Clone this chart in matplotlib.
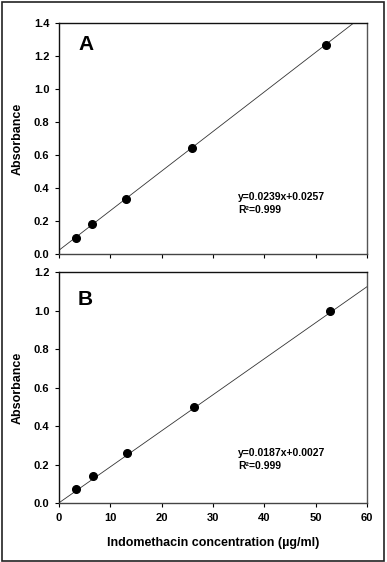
import matplotlib
matplotlib.use("Agg")
import matplotlib.pyplot as plt
from matplotlib.patches import Rectangle
import numpy as np

plt.rcParams["font.family"] = ["Liberation Sans", "DejaVu Sans"]
plt.rcParams["font.weight"] = "bold"

# Panel A data
conc_a = [3.25, 6.5, 13.0, 26.0, 52.0]
abs_a = [0.10, 0.185, 0.338, 0.643, 1.265]
slope_a, intercept_a = 0.0239, 0.0257

# Panel B data
conc_b = [3.3, 6.6, 13.2, 26.4, 52.8]
abs_b = [0.075, 0.14, 0.26, 0.50, 1.0]
slope_b, intercept_b = 0.0187, 0.0027

x_ticks = [0, 10, 20, 30, 40, 50, 60]
y_ticks_a = [0.0, 0.2, 0.4, 0.6, 0.8, 1.0, 1.2, 1.4]
y_ticks_b = [0.0, 0.2, 0.4, 0.6, 0.8, 1.0, 1.2]

fig = plt.figure(figsize=(3.87, 5.62), dpi=100)

# Outer border around the whole figure
fig.patches.append(
    Rectangle((1.5 / 387, 1.5 / 562), 382.5 / 387, 558.5 / 562,
              transform=fig.transFigure, fill=False, edgecolor="#222222", lw=1.2)
)

ax_a = fig.add_axes([0.1525, 0.5472, 0.7955, 0.4124])
ax_b = fig.add_axes([0.1525, 0.1044, 0.7955, 0.4111])


def style_axes(ax, y_ticks, ymax, show_xlabels):
    ax.set_xlim(0, 60)
    ax.set_ylim(0, ymax)
    ax.set_xticks(x_ticks)
    ax.set_yticks(y_ticks)
    ax.set_yticklabels([f"{v:.1f}" for v in y_ticks])
    if show_xlabels:
        ax.set_xticklabels([str(v) for v in x_ticks])
    else:
        ax.set_xticklabels([])
    ax.tick_params(direction="out", length=3, width=0.8, labelsize=8, pad=4,
                   top=False, right=False)
    for lbl in ax.get_xticklabels() + ax.get_yticklabels():
        lbl.set_fontweight("bold")
    ax.spines["left"].set_color("#111111")
    ax.spines["top"].set_color("#111111")
    ax.spines["right"].set_color("#555555")
    ax.spines["bottom"].set_color("#444444")
    for s in ax.spines.values():
        s.set_linewidth(1.0)
    ax.set_ylabel("Absorbance", fontsize=9, fontweight="bold", labelpad=7)


# Panel A
ax_a.axline((0, intercept_a), slope=slope_a, color="#333333", lw=0.6)
ax_a.plot(conc_a, abs_a, "o", color="black", ms=5.5, zorder=3)
style_axes(ax_a, y_ticks_a, 1.4, False)
ax_a.text(5.2, 1.27, "A", fontsize=15, fontweight="bold", ha="center", va="center")
ax_a.text(34.9, 0.349, f"y={slope_a}x+{intercept_a}", fontsize=7.5, fontweight="bold",
          ha="left", va="center")
ax_a.text(34.9, 0.269, "R²=0.999", fontsize=7.5, fontweight="bold", ha="left", va="center")

# Panel B
ax_b.axline((0, intercept_b), slope=slope_b, color="#333333", lw=0.6)
ax_b.plot(conc_b, abs_b, "o", color="black", ms=5.5, zorder=3)
style_axes(ax_b, y_ticks_b, 1.2, True)
ax_b.text(5.1, 1.061, "B", fontsize=15, fontweight="bold", ha="center", va="center")
ax_b.text(34.9, 0.261, f"y={slope_b}x+{intercept_b}", fontsize=7.5, fontweight="bold",
          ha="left", va="center")
ax_b.text(34.9, 0.195, "R²=0.999", fontsize=7.5, fontweight="bold", ha="left", va="center")
ax_b.set_xlabel("Indomethacin concentration (µg/ml)", fontsize=9, fontweight="bold",
                labelpad=10)

# Align y labels at the same x position
fig.align_ylabels([ax_a, ax_b])

fig.savefig("out.png", dpi=100)
